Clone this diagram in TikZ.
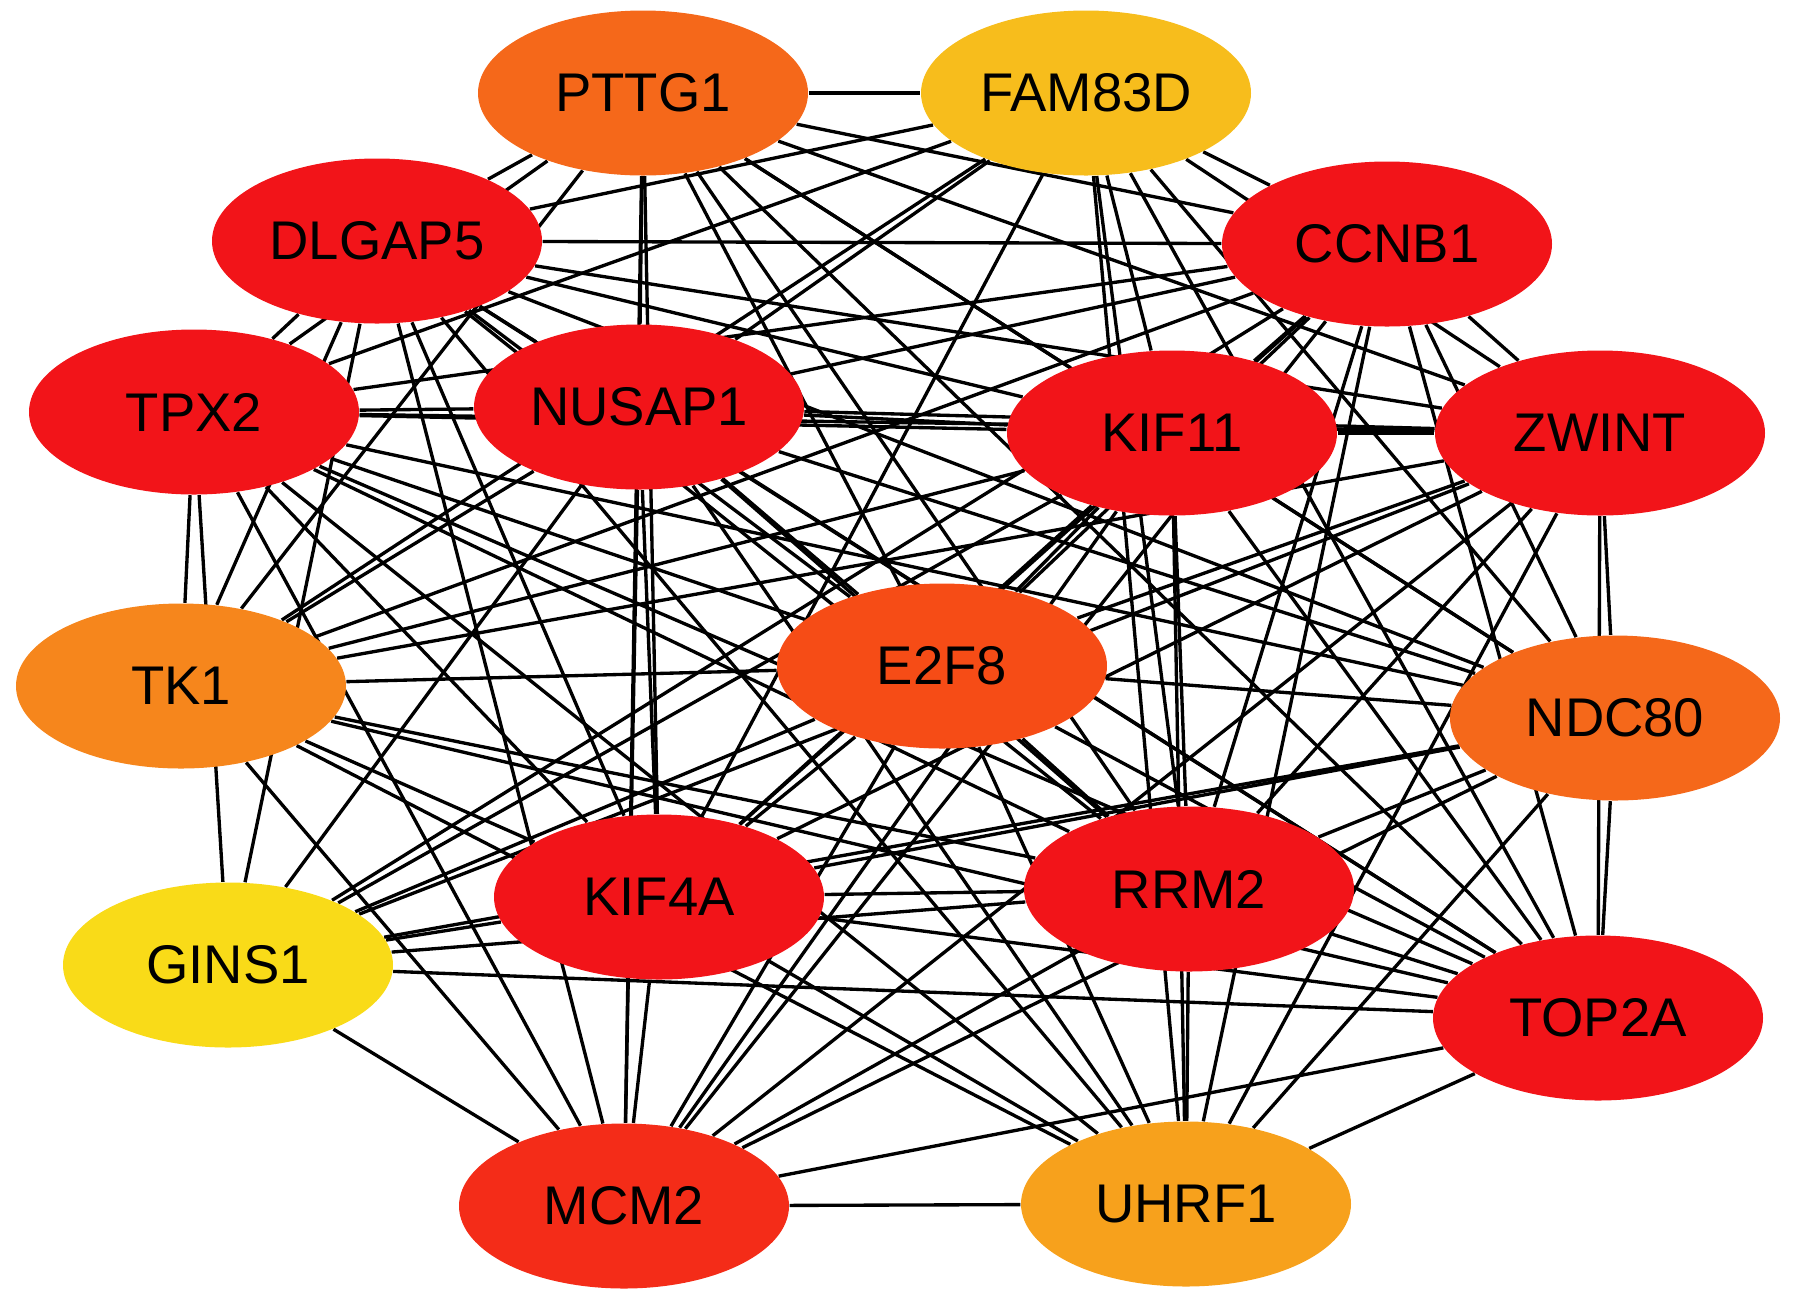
\documentclass[tikz,border=0pt]{standalone}
\usepackage{fontspec}
\setmainfont{Liberation Sans}
\usepackage{tikz}
\usetikzlibrary{shapes.geometric, backgrounds}
\definecolor{hubred}{HTML}{F21419}
\definecolor{hubredorange}{HTML}{F42C18}
\definecolor{huborangered}{HTML}{F64C16}
\definecolor{huborange}{HTML}{F5681A}
\definecolor{hubtangerine}{HTML}{F6861C}
\definecolor{hubamber}{HTML}{F7A11C}
\definecolor{hubgold}{HTML}{F7BD1C}
\definecolor{hubyellow}{HTML}{F9DB18}

\begin{document}
\begin{tikzpicture}[
    gene/.style={ellipse, fill=#1, inner sep=0pt,
                 minimum width=3.3cm, minimum height=1.65cm,
                 font=\fontsize{15.5}{18}\selectfont},
    link/.style={line width=0.95pt, black},
]
    \useasboundingbox (0, 0) rectangle (17.95, -13.04);

    % Hub genes
    \node[gene=huborange] (pttg1) at (6.43, -0.93) {PTTG1};
    \node[gene=hubgold] (fam83d) at (10.86, -0.93) {FAM83D};
    \node[gene=hubred] (dlgap5) at (3.77, -2.41) {DLGAP5};
    \node[gene=hubred] (ccnb1) at (13.87, -2.44) {CCNB1};
    \node[gene=hubred] (tpx2) at (1.94, -4.12) {TPX2};
    \node[gene=hubred] (nusap1) at (6.39, -4.07) {NUSAP1};
    \node[gene=hubred] (kif11) at (11.72, -4.33) {KIF11};
    \node[gene=hubred] (zwint) at (16.00, -4.33) {ZWINT};
    \node[gene=hubtangerine] (tk1) at (1.81, -6.86) {TK1};
    \node[gene=huborangered] (e2f8) at (9.42, -6.66) {E2F8};
    \node[gene=huborange] (ndc80) at (16.15, -7.18) {NDC80};
    \node[gene=hubyellow] (gins1) at (2.28, -9.65) {GINS1};
    \node[gene=hubred] (kif4a) at (6.59, -8.97) {KIF4A};
    \node[gene=hubred] (rrm2) at (11.89, -8.89) {RRM2};
    \node[gene=hubred] (top2a) at (15.98, -10.18) {TOP2A};
    \node[gene=hubredorange] (mcm2) at (6.24, -12.06) {MCM2};
    \node[gene=hubamber] (uhrf1) at (11.86, -12.04) {UHRF1};

    % Interactions
    \begin{scope}[on background layer]
    \foreach \a/\b in {pttg1/fam83d, pttg1/dlgap5, pttg1/ccnb1, pttg1/tpx2, pttg1/nusap1,
        pttg1/kif11, pttg1/zwint, pttg1/tk1, pttg1/e2f8, pttg1/ndc80, pttg1/kif4a,
        pttg1/rrm2, pttg1/top2a, pttg1/mcm2,
        fam83d/dlgap5, fam83d/ccnb1, fam83d/tpx2, fam83d/nusap1, fam83d/kif11,
        fam83d/zwint, fam83d/tk1, fam83d/ndc80, fam83d/kif4a, fam83d/rrm2,
        fam83d/top2a, fam83d/uhrf1,
        dlgap5/ccnb1, dlgap5/tpx2, dlgap5/nusap1, dlgap5/kif11, dlgap5/zwint,
        dlgap5/tk1, dlgap5/e2f8, dlgap5/ndc80, dlgap5/gins1, dlgap5/kif4a,
        dlgap5/rrm2, dlgap5/top2a, dlgap5/mcm2, dlgap5/uhrf1,
        ccnb1/tpx2, ccnb1/nusap1, ccnb1/kif11, ccnb1/zwint, ccnb1/tk1, ccnb1/e2f8,
        ccnb1/ndc80, ccnb1/gins1, ccnb1/kif4a, ccnb1/rrm2, ccnb1/top2a,
        ccnb1/mcm2, ccnb1/uhrf1,
        tpx2/nusap1, tpx2/kif11, tpx2/zwint, tpx2/tk1, tpx2/e2f8, tpx2/ndc80,
        tpx2/gins1, tpx2/kif4a, tpx2/rrm2, tpx2/top2a, tpx2/mcm2, tpx2/uhrf1,
        nusap1/kif11, nusap1/zwint, nusap1/tk1, nusap1/e2f8, nusap1/ndc80,
        nusap1/gins1, nusap1/kif4a, nusap1/rrm2, nusap1/top2a, nusap1/mcm2,
        nusap1/uhrf1,
        kif11/zwint, kif11/tk1, kif11/e2f8, kif11/ndc80, kif11/gins1, kif11/kif4a,
        kif11/rrm2, kif11/top2a, kif11/mcm2, kif11/uhrf1,
        zwint/tk1, zwint/e2f8, zwint/ndc80, zwint/gins1, zwint/kif4a, zwint/rrm2,
        zwint/top2a, zwint/mcm2, zwint/uhrf1,
        tk1/e2f8, tk1/kif4a, tk1/rrm2, tk1/top2a, tk1/mcm2, tk1/uhrf1,
        e2f8/ndc80, e2f8/gins1, e2f8/kif4a, e2f8/rrm2, e2f8/top2a, e2f8/mcm2,
        e2f8/uhrf1,
        ndc80/gins1, ndc80/kif4a, ndc80/rrm2, ndc80/top2a, ndc80/mcm2, ndc80/uhrf1,
        gins1/kif4a, gins1/rrm2, gins1/top2a, gins1/mcm2,
        kif4a/rrm2, kif4a/top2a, kif4a/mcm2, kif4a/uhrf1,
        rrm2/top2a, rrm2/mcm2, rrm2/uhrf1,
        top2a/mcm2, top2a/uhrf1,
        mcm2/uhrf1}
        \draw[link] (\a) -- (\b);
    \end{scope}
\end{tikzpicture}
\end{document}
